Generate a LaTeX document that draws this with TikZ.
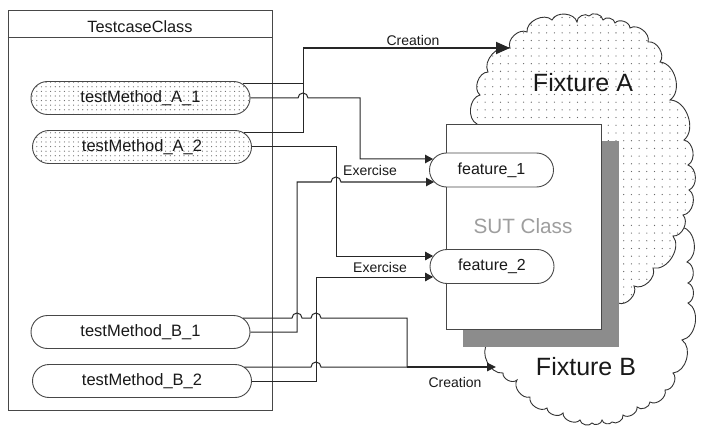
\documentclass[tikz,border=0pt]{standalone}
\usepackage{fontspec}
\setmainfont{Liberation Sans}
\usetikzlibrary{arrows.meta,patterns.meta,calc,shapes.misc}
\begin{document}
\begin{tikzpicture}[x=1pt,y=1pt,
  txt/.style={text=black!90},
  boxline/.style={draw=black!72, line width=0.9pt},
  method/.style={boxline, rounded rectangle, minimum width=219pt, minimum height=33pt,
    inner sep=0pt, font=\fontsize{16.5}{19}\selectfont, txt},
  dotfine/.style={preaction={fill=white}, pattern={Dots[distance=4.6pt,radius=0.6pt]}, pattern color=black!60},
  dotwide/.style={preaction={fill=white}, pattern={Dots[distance=7.7pt,radius=0.65pt]}, pattern color=black!60},
  feature/.style={boxline, rounded rectangle, fill=white, minimum width=124pt, minimum height=34pt,
    inner sep=0pt, font=\fontsize{16}{19}\selectfont, txt},
  conn/.style={draw=black!85, line width=1.0pt},
  exarrow/.style={conn, -{Triangle[length=8pt,width=8.5pt]}},
  creationA/.style={draw=black!85, line width=1.8pt, -{Triangle[length=14pt,width=12pt]}},
  creationB/.style={draw=black!85, line width=1.4pt, -{Triangle[length=9pt,width=8.5pt]}},
  lbl/.style={font=\fontsize{14}{16}\selectfont, txt, inner sep=0pt},
  cloudline/.style={draw=black!80, line width=0.9pt},
  bmp/.style={bend left=70}
]
\useasboundingbox (0,0) rectangle (707,-441);

% Testcase class container
\node[boxline, rectangle, minimum width=264pt, minimum height=400pt, inner sep=0pt] (tc) at (140,-210) {};
\draw[boxline] ($(tc.north west)+(0,-28)$) -- ($(tc.north east)+(0,-28)$);
\node[font=\fontsize{16.3}{19}\selectfont, txt] (tctitle) at ($(tc.north)+(0,-17)$) {TestcaseClass};

% methods
\node[method, dotfine] (mA1) at (140.5,-98) {testMethod\_A\_1};
\node[method, dotfine] (mA2) at (142,-147) {testMethod\_A\_2};
\node[method, fill=white] (mB1) at (140.5,-332) {testMethod\_B\_1};
\node[method, fill=white] (mB2) at (142,-381) {testMethod\_B\_2};

% Fixture B cloud
\path[cloudline, fill=white] (500,-250) -- (600,-215) -- (640,-200) -- (670,-205) -- (682,-227)
  to[bmp] (687,-262) to[bmp] (688,-283) to[bmp] (688,-303) to[bmp] (682,-340)
  to[bmp] (673,-373) to[bmp] (665,-390) to[bmp] (650,-402) to[bmp] (637,-407)
  to[bmp] (623,-415) to[bmp] (612,-422) to[bmp] (602,-420) to[bmp] (592,-423)
  to[bmp] (580,-420) to[bmp] (563,-413) to[bmp] (547,-408) to[bmp] (530,-397)
  to[bmp] (517,-380) to[bmp] (503,-373) to[bmp] (488,-343) -- (486,-330) -- cycle;

% Fixture A cloud
\path[cloudline, dotwide] (477,-124)
  to[bmp] (480,-95) to[bmp] (488,-72) to[bmp] (510,-48) to[bmp] (527,-32)
  to[bmp] (552,-20) to[bmp] (577,-22) to[bmp] (589,-16) to[bmp] (603,-20)
  to[bmp] (615,-23) to[bmp] (630,-28) to[bmp] (648,-42) to[bmp] (660,-62)
  to[bmp] (670,-100) to[bmp] (684,-140) to[bmp] (688,-165) to[bmp] (689,-190)
  to[bmp] (683,-215) to[bmp] (673,-236) to[bmp] (653,-268) to[bmp] (634,-286)
  to[bmp] (618,-303) -- (610,-335) -- (480,-335) -- (460,-250) -- (465,-140) -- cycle;

\node[font=\fontsize{25}{28}\selectfont, txt] (fxA) at (583,-83) {Fixture A};
\node[font=\fontsize{25}{28}\selectfont, txt] (fxB) at (586,-367) {Fixture B};
\coordinate (fxAin) at (510,-48);
\coordinate (fxBin) at (496,-367);

% SUT class
\fill[fill=black!45] (463,-141) rectangle (619,-347);
\node[boxline, rectangle, fill=white, minimum width=155pt, minimum height=205pt, inner sep=0pt] (sut) at (523.5,-226.5) {};
\node[font=\fontsize{20.7}{24}\selectfont, text=black!38] (sutlbl) at (523,-226) {SUT Class};

\node[feature] (f1) at (491.5,-170) {feature\_1};
\node[feature] (f2) at (492,-266.5) {feature\_2};

\coordinate (f1in1) at ($(f1.west)+(4,11)$);
\coordinate (f1in2) at ($(f1.west)+(5,-12)$);
\coordinate (f2in1) at ($(f2.west)+(3.6,10.5)$);
\coordinate (f2in2) at ($(f2.west)+(3.6,-10.5)$);

% junctions
\coordinate (jA) at (303,-48);
\coordinate (jB) at (407,-367);

% Creation A
\draw[conn] ($(mA2.east)+(-7.5,14)$) -| (jA);
\draw[conn] ($(mA1.east)+(-7.5,14)$) -- (303,-84);
\draw[creationA] (jA) -- (fxAin);
\node[lbl] (crA) at (413,-40) {Creation};

% Exercise arrows
\draw[exarrow] (mA1.east) -- (298,-98) arc(180:0:5) -- (360,-98) -- (360,-159) -- (f1in1);
\draw[exarrow] (mA2.east) -| (336,-256) -- (f2in1);
\draw[exarrow] (mB1.east) -| (297,-182) -- (331,-182) arc(180:0:5) -- (f1in2);
\draw[exarrow] (mB2.east) -| (316,-277) -- (f2in2);
\node[lbl] (ex1) at (370,-170) {Exercise};
\node[lbl] (ex2) at (380,-267) {Exercise};

% Creation B
\draw[conn] ($(mB1.east)+(-7.5,14)$) -- (292,-318) arc(180:0:5) -- (311,-318) arc(180:0:5) -- (407,-318) -- (jB);
\draw[conn] ($(mB2.east)+(-7.5,14)$) -- (311,-367) arc(180:0:5) -- (jB);
\draw[creationB] (jB) -- (fxBin);
\node[lbl] (crB) at (455,-382) {Creation};
\end{tikzpicture}
\end{document}
